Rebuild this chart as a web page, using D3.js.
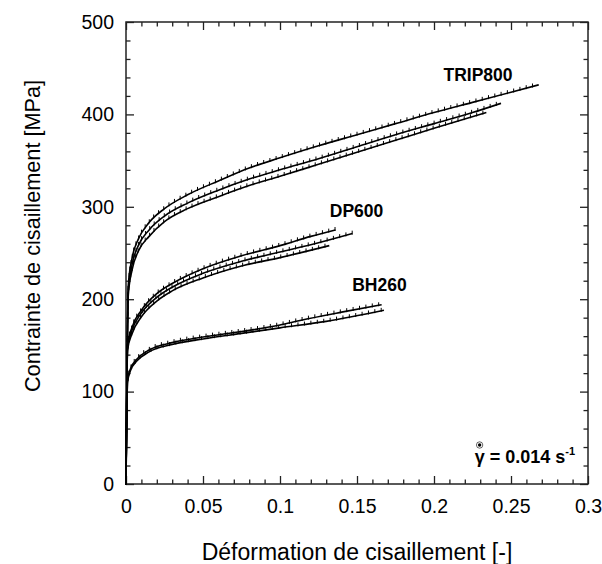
<!DOCTYPE html>
<html>
<head>
<meta charset="utf-8">
<script src="https://cdn.jsdelivr.net/npm/d3@7"></script>
<style>
  html, body { margin: 0; padding: 0; background: #fff; }
  svg { display: block; font-family: "Liberation Sans", Arial, sans-serif; }
</style>
</head>
<body>
<svg id="chart" width="602" height="564"></svg>
<script>
// ---- data (strain [-], stress [MPa]) ----
const xTickValues = [0, 0.05, 0.1, 0.15, 0.2, 0.25, 0.3];
const xTickLabels = ["0", "0.05", "0.1", "0.15", "0.2", "0.25", "0.3"];
const yTickValues = [0, 100, 200, 300, 400, 500];
const yTickLabels = ["0", "100", "200", "300", "400", "500"];

const trip800_a = [[0,0],[0.0015,215],[0.004,245],[0.008,265],[0.015,283],[0.025,298],[0.04,313],[0.06,328],[0.08,342],[0.1,353],[0.125,366],[0.15,378],[0.175,390],[0.2,402],[0.225,413],[0.25,424],[0.268,432]];
const trip800_b = [[0,0],[0.0015,210],[0.004,238],[0.008,258],[0.015,275],[0.025,290],[0.04,304],[0.06,318],[0.08,330],[0.1,340],[0.125,352],[0.15,365],[0.175,378],[0.2,390],[0.225,402],[0.2435,412]];
const trip800_c = [[0,0],[0.0015,205],[0.004,232],[0.008,252],[0.015,268],[0.025,284],[0.04,298],[0.06,311],[0.08,323],[0.1,333],[0.125,346],[0.15,359],[0.175,372],[0.2,385],[0.234,402]];

const dp600_a = [[0,0],[0.001,150],[0.004,170],[0.01,188],[0.02,206],[0.03,217],[0.05,233],[0.075,247],[0.1,258],[0.12,268],[0.136,275]];
const dp600_b = [[0,0],[0.001,148],[0.004,167],[0.01,185],[0.02,202],[0.03,213],[0.05,228],[0.075,241],[0.1,251],[0.125,261],[0.147,271]];
const dp600_c = [[0,0],[0.001,145],[0.004,163],[0.01,181],[0.02,198],[0.03,209],[0.05,223],[0.075,236],[0.1,245],[0.132,258]];

const bh260_a = [[0,0],[0.001,112],[0.003,125],[0.007,135],[0.015,145],[0.03,153],[0.05,159],[0.075,165],[0.1,172],[0.113,177],[0.14,186],[0.166,194]];
const bh260_b = [[0,0],[0.001,110],[0.003,123],[0.007,133],[0.015,143],[0.03,151],[0.05,157],[0.075,163],[0.1,169],[0.13,176],[0.1675,188]];

const curves = [trip800_a, trip800_b, trip800_c, dp600_a, dp600_b, dp600_c, bh260_a, bh260_b];

const materialLabels = ["TRIP800", "DP600", "BH260"];
const materialLabelPos = [[0.2286, 436], [0.1497, 289], [0.1646, 209]];

// ---- layout ----
const svg = d3.select("#chart");
const L = 126, R = 588, T = 22, B = 484;
const x = d3.scaleLinear().domain([0, 0.3]).range([L, R]);
const y = d3.scaleLinear().domain([0, 500]).range([B, T]);

const xMinor = d3.range(0, 0.3001, 0.01).filter(v => Math.abs(Math.round(v / 0.05) * 0.05 - v) > 1e-6);
const yMinor = d3.range(0, 500.1, 20).filter(v => v % 100 !== 0);

function styleAxis(g) {
  g.selectAll(".domain").remove();
  g.selectAll(".tick line").attr("stroke", "#222").attr("stroke-width", 1.3);
}

// minor ticks
svg.append("g").attr("transform", `translate(0,${B})`)
  .call(d3.axisBottom(x).tickValues(xMinor).tickSize(-4.5).tickFormat(""))
  .call(styleAxis);
svg.append("g").attr("transform", `translate(0,${T})`)
  .call(d3.axisTop(x).tickValues(xMinor).tickSize(-4.5).tickFormat(""))
  .call(styleAxis);
svg.append("g").attr("transform", `translate(${L},0)`)
  .call(d3.axisLeft(y).tickValues(yMinor).tickSize(-4.5).tickFormat(""))
  .call(styleAxis);
svg.append("g").attr("transform", `translate(${R},0)`)
  .call(d3.axisRight(y).tickValues(yMinor).tickSize(-4.5).tickFormat(""))
  .call(styleAxis);

// major ticks
const gx = svg.append("g").attr("transform", `translate(0,${B})`)
  .call(d3.axisBottom(x).tickValues(xTickValues).tickSize(-8).tickPadding(15)
    .tickFormat((d, i) => xTickLabels[i]))
  .call(styleAxis);
gx.selectAll("text").attr("font-size", 19.5).attr("fill", "#000")
  .attr("font-family", "'Liberation Sans', Arial, sans-serif");
svg.append("g").attr("transform", `translate(0,${T})`)
  .call(d3.axisTop(x).tickValues(xTickValues).tickSize(-8).tickFormat(""))
  .call(styleAxis);
const gy = svg.append("g").attr("transform", `translate(${L},0)`)
  .call(d3.axisLeft(y).tickValues(yTickValues).tickSize(-8).tickPadding(12)
    .tickFormat((d, i) => yTickLabels[i]))
  .call(styleAxis);
gy.selectAll("text").attr("font-size", 19.5).attr("fill", "#000")
  .attr("font-family", "'Liberation Sans', Arial, sans-serif");
svg.append("g").attr("transform", `translate(${R},0)`)
  .call(d3.axisRight(y).tickValues(yTickValues).tickSize(-8).tickFormat(""))
  .call(styleAxis);

// frame
svg.append("rect").attr("x", L).attr("y", T).attr("width", R - L).attr("height", B - T)
  .attr("fill", "none").attr("stroke", "#222").attr("stroke-width", 1.5);

// curves
const line = d3.line().x(d => x(d[0])).y(d => y(d[1])).curve(d3.curveMonotoneX);
const gc = svg.append("g");
curves.forEach(c => {
  const p = gc.append("path").datum(c).attr("d", line)
    .attr("fill", "none").attr("stroke", "#000").attr("stroke-width", 1.6);
  // small vertical measurement marks along the curve
  const node = p.node();
  const len = node.getTotalLength();
  const marks = [];
  for (let s = 0; s <= len; s += 6.5) marks.push(node.getPointAtLength(s));
  gc.append("g").selectAll("line").data(marks).join("line")
    .attr("x1", d => d.x).attr("x2", d => d.x)
    .attr("y1", d => d.y - 3).attr("y2", d => d.y + 1)
    .attr("stroke", "#000").attr("stroke-width", 1);
});

// material labels
svg.append("g").selectAll("text").data(materialLabels).join("text")
  .attr("x", (d, i) => x(materialLabelPos[i][0]))
  .attr("y", (d, i) => y(materialLabelPos[i][1]))
  .attr("text-anchor", "middle")
  .attr("font-size", 17.5).attr("font-weight", "bold").attr("fill", "#000")
  .text(d => d);

// strain-rate annotation
const ann = svg.append("text").attr("x", 575).attr("y", 463)
  .attr("text-anchor", "end").attr("font-size", 18).attr("font-weight", "bold").attr("fill", "#000");
ann.append("tspan").text("γ");
ann.append("tspan").text(" = 0.014 s");
ann.append("tspan").attr("font-size", 11).attr("dy", -8).text("-1");
// dot over gamma
const bb = ann.node().getBBox();
svg.append("circle").attr("cx", bb.x + 5).attr("cy", 445).attr("r", 1.7).attr("fill", "#000");
svg.append("circle").attr("cx", bb.x + 5).attr("cy", 445).attr("r", 3.2).attr("fill", "none")
  .attr("stroke", "#000").attr("stroke-width", 0.6);

// axis titles
svg.append("text").attr("x", (L + R) / 2).attr("y", 560).attr("text-anchor", "middle")
  .attr("font-size", 23).attr("fill", "#000").text("Déformation de cisaillement [-]");
svg.append("text").attr("transform", `translate(40,236) rotate(-90)`)
  .attr("text-anchor", "middle").attr("font-size", 21.7).attr("fill", "#000")
  .text("Contrainte de cisaillement [MPa]");
</script>
</body>
</html>
